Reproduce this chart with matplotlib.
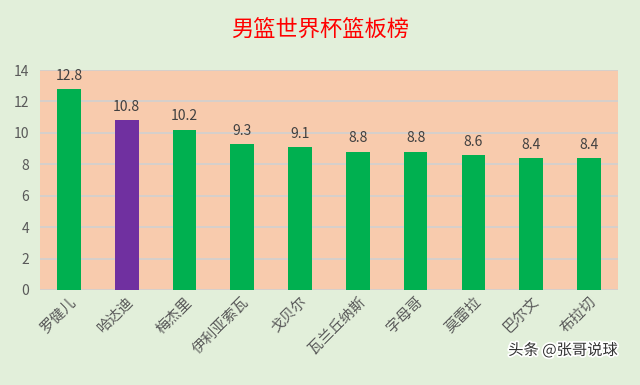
import matplotlib.pyplot as plt
import matplotlib.patheffects as pe

players = ["罗健儿", "哈达迪", "梅杰里", "伊利亚索瓦", "戈贝尔",
           "瓦兰丘纳斯", "字母哥", "莫雷拉", "巴尔文", "布拉切"]
rebounds = [12.8, 10.8, 10.2, 9.3, 9.1, 8.8, 8.8, 8.6, 8.4, 8.4]
bar_colors = ["#00B050", "#7030A0"] + ["#00B050"] * 8
y_ticks = [0, 2, 4, 6, 8, 10, 12, 14]

plt.rcParams["font.family"] = ["Noto Sans CJK SC", "DejaVu Sans"]

fig = plt.figure(figsize=(6.4, 3.85), dpi=100)
fig.patch.set_facecolor("#E2EFDA")
ax = fig.add_axes([0.0625, 0.247, 0.903, 0.571])
ax.set_facecolor("#F8CBAD")

x = range(len(players))
bars = ax.bar(x, rebounds, width=0.41, color=bar_colors, zorder=3)
for b, v in zip(bars, rebounds):
    ax.text(b.get_x() + b.get_width() / 2, v + 0.4, f"{v}", ha="center",
            va="bottom", fontsize=10, color="#404040", zorder=4)

ax.set_xlim(-0.5, len(players) - 0.5)
ax.set_ylim(0, 14)
ax.set_yticks(y_ticks)
ax.yaxis.grid(True, color="#D0D0D0", linewidth=1.2, zorder=1)
ax.set_axisbelow(True)
for s in ax.spines.values():
    s.set_visible(False)
ax.tick_params(axis="both", length=0, colors="#595959", labelsize=10)
ax.tick_params(axis="y", pad=8)
ax.set_xticks(list(x))
ax.set_xticklabels(players, rotation=45, ha="right", rotation_mode="anchor",
                   fontsize=10.5, color="#595959")

fig.text(0.5, 0.92, "男篮世界杯篮板榜", ha="center", va="center",
         fontsize=16, color="#FF0000", fontweight="medium")

fig.text(0.965, 0.09, "头条 @张哥说球", ha="right", va="center", fontsize=11,
         color="#333333",
         path_effects=[pe.withStroke(linewidth=2.5, foreground="white")])

fig.savefig("out.png", dpi=100, facecolor=fig.get_facecolor())
